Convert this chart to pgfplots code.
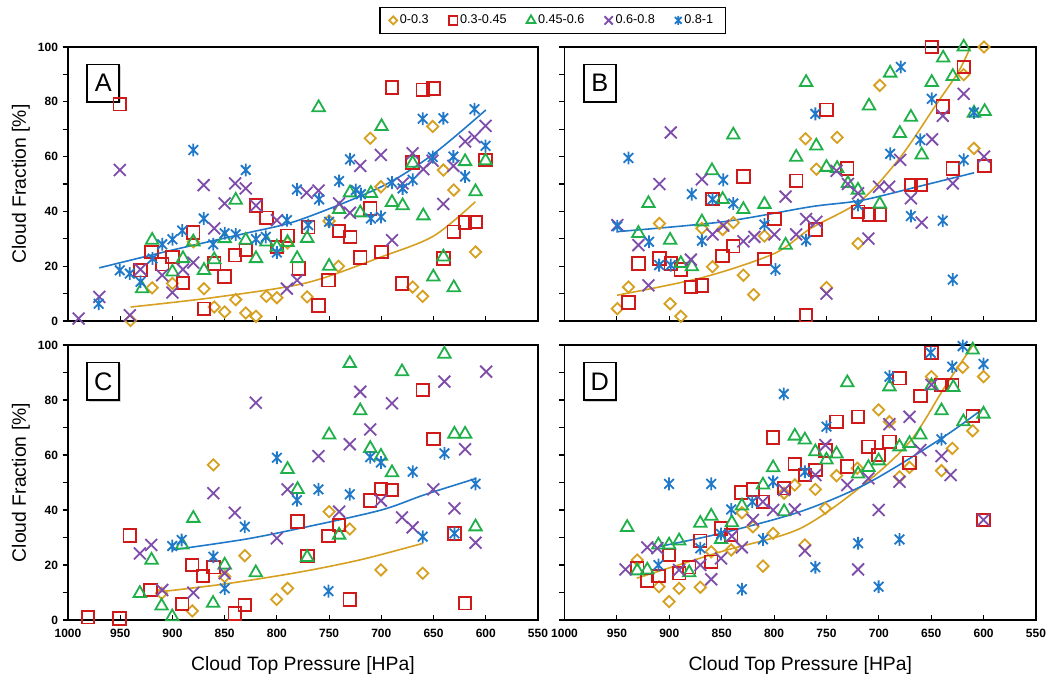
\documentclass[border=0pt]{standalone}
\usepackage{fontspec}
\setmainfont{Liberation Sans}
\usepackage{pgfplots}
\pgfplotsset{compat=1.18}
\usetikzlibrary{shadows}

\definecolor{cgold}{HTML}{D6A020}
\definecolor{cred}{HTML}{D01A1A}
\definecolor{cgreen}{HTML}{20B04A}
\definecolor{cpurple}{HTML}{7E4CAB}
\definecolor{cblue}{HTML}{1F78C8}

% star marker: an x with a vertical bar
\pgfdeclareplotmark{xstar}{%
  \pgfpathmoveto{\pgfqpoint{-.75\pgfplotmarksize}{-.75\pgfplotmarksize}}%
  \pgfpathlineto{\pgfqpoint{.75\pgfplotmarksize}{.75\pgfplotmarksize}}%
  \pgfpathmoveto{\pgfqpoint{-.75\pgfplotmarksize}{.75\pgfplotmarksize}}%
  \pgfpathlineto{\pgfqpoint{.75\pgfplotmarksize}{-.75\pgfplotmarksize}}%
  \pgfpathmoveto{\pgfqpoint{0pt}{-\pgfplotmarksize}}%
  \pgfpathlineto{\pgfqpoint{0pt}{\pgfplotmarksize}}%
  \pgfusepathqstroke}

\pgfplotsset{
  panel/.style={
    scale only axis, width=352.5pt, height=205.5pt,
    x dir=reverse, xmin=550, xmax=1000, ymin=0, ymax=100,
    xtick={550,600,...,1000}, ytick={0,20,...,100}, minor ytick={10,30,50,70,90},
    xtick pos=bottom, ytick pos=left, xtick align=inside, ytick align=outside,
    major tick length=4pt, minor tick length=4pt,
    tick style={black, line width=0.8pt},
    axis line style={line width=1.2pt},
    clip=false,
    ticklabel style={font=\fontsize{9}{10}\selectfont\bfseries},
    xticklabel style={yshift=-3pt},
    /pgf/number format/assume math mode=true,
    /pgf/number format/set thousands separator={},
    every axis y label/.style={at={(axis description cs:-0.1,0.5)}, rotate=90, anchor=center},
    every axis x label/.style={at={(axis description cs:0.5,-0.164)}, anchor=center},
    label style={font=\fontsize{14.5}{16}\selectfont},
  },
  g0/.style={only marks, color=cgold, mark=square, mark size=3pt, mark options={rotate=45, line width=1.35pt}},
  g1/.style={only marks, color=cred, mark=square, mark size=4.7pt, mark options={line width=1.35pt}},
  g2/.style={only marks, color=cgreen, mark=triangle, mark size=5.4pt, mark options={line width=1.35pt}},
  g3/.style={only marks, color=cpurple, mark=x, mark size=6.3pt, mark options={line width=1.35pt}},
  g4/.style={only marks, color=cblue, mark=xstar, mark size=4.8pt, mark options={line width=1.35pt}},
  fit0/.style={cgold, line width=1.2pt, smooth, no marks, forget plot},
  fit4/.style={cblue, line width=1.2pt, smooth, no marks, forget plot},
}

\newcommand{\panellabel}[1]{%
  \node[draw, line width=1.2pt, fill=white,
        drop shadow={opacity=0.35, shadow xshift=1.2pt, shadow yshift=-1.2pt},
        minimum width=24pt, minimum height=28pt, inner sep=0pt,
        font=\fontsize{19}{20}\selectfont] at (axis description cs:0.075,0.868) {#1};}

\begin{document}
\begin{tikzpicture}
\path[use as bounding box] (0,0) rectangle (784.5pt,509.25pt);

% ---------------- A ----------------
\begin{axis}[panel, at={(51pt,268.5pt)}, anchor=south west,
  xticklabels={}, ylabel={Cloud Fraction [\%]},
  legend style={at={(1.031,1.097)}, anchor=center, legend columns=-1,
    draw=black, line width=1pt, font=\fontsize{9.5}{11}\selectfont,
    inner xsep=7pt, inner ysep=3.5pt,
    /tikz/every even column/.append style={column sep=13pt}},
  legend image code/.code={\draw[#1] plot coordinates {(0.13cm,0cm)};},
  legend image post style={every mark/.append style={scale=0.7}},
]
\addplot[g0] coordinates {(940.2,0.2) (919.4,12.1) (900,13.7) (880,28.9) (869.8,11.8) (860,5.1) (850,3.3) (839.4,7.8) (829.8,2.9) (820,1.7) (810,9) (800,8.5) (789.8,28.5) (771,8.8) (750,36.5) (741,20) (710.6,66.7) (700.4,49) (670,12.4) (660.4,9) (650.8,71) (640.6,55.1) (630.6,47.8) (609.8,25.2)};
\addplot[g1] coordinates {(950.4,79.1) (930.6,18.5) (920,25.2) (909.8,20.7) (900,23.4) (889.9,13.9) (880,32.3) (869.8,4.5) (860,21) (850,16.3) (840,24) (829.8,25.9) (820,42.1) (810,37.7) (800,27) (789.8,31.1) (779,19.1) (770,34.2) (760.2,5.7) (750.6,14.9) (740.4,32.8) (729.8,30.7) (720.2,23.2) (710.6,41.1) (699.8,25.2) (689.8,85.2) (680.2,13.7) (670,57.8) (660.4,84.4) (650.2,84.8) (640.6,22.8) (630.6,32.6) (619.8,35.9) (609.8,36.1) (600.2,58.8)};
\addplot[g2] coordinates {(929,11.8) (919.4,29.5) (900,17.9) (889.9,22.8) (880,28.9) (869.8,18.5) (860,22.4) (850,30.1) (839.4,44.1) (829.8,29.5) (820,22.8) (810,28.9) (800,27) (789.8,28.7) (780.6,22.8) (771,30.2) (760,77.9) (750,20) (740.4,40.7) (730,46.8) (720.2,39.5) (710,46.6) (699.8,71) (689.8,43.3) (679.6,42.1) (670,57.6) (659.8,38.4) (650.2,16.1) (640.6,23.4) (630.6,12.2) (619.8,58.2) (609.8,47.2) (600.2,58.5)};
\addplot[g3] coordinates {(989.8,0.9) (970,8.8) (950.4,55.1) (940.8,2.1) (930.6,18.8) (909.8,16.7) (900,10.4) (889.9,18.8) (880,21.3) (870.1,49.6) (860,33.8) (850,42.9) (840,50.2) (829.8,48.4) (820,42.1) (800,36.8) (790.4,11.8) (780.6,14.9) (771.5,46.8) (760.2,47.6) (740.4,42.9) (730,39.5) (720.2,56.6) (700.4,60.6) (689.8,29.5) (679.6,50.2) (670,61.2) (659.8,55.4) (651,58.5) (640.6,42.7) (631,56.6) (619.8,65.5) (610.8,67.1) (600.2,71.2)};
\addplot[g4] coordinates {(970.6,6.3) (950.4,18.5) (940.8,17.3) (930.6,14.3) (919,22.8) (909.8,28) (900,29.8) (890.6,33) (880,62.4) (870,37.4) (861,28) (850,32) (839.4,31.6) (829.8,55.1) (820,29.9) (810.6,30.7) (800,25) (790.4,36.8) (780.8,48) (770,35) (759.6,44.4) (750,36.2) (740.4,51.1) (730,59) (724.4,47.8) (719.6,46.3) (710,37.4) (700.4,38) (689.8,50.5) (679.6,48.4) (670,51.5) (660.4,73.8) (650.8,59.8) (640.6,74) (631,60) (619.8,52.7) (610.8,77.3) (600.2,63.9)};
\addplot[fit0] coordinates {(940,5.1) (860,8.6) (772,13.9) (700,23.4) (650,31) (610,43.5)};
\addplot[fit4] coordinates {(970,19.4) (900,25.9) (830,32) (779,36.8) (700,49) (650,61) (600,77)};
\legend{0-0.3, 0.3-0.45, 0.45-0.6, 0.6-0.8, 0.8-1}
\panellabel{A}
\end{axis}

% ---------------- B ----------------
\begin{axis}[panel, at={(423.4pt,268.5pt)}, anchor=south west, width=353.6pt,
  xticklabels={}, yticklabels={}]
\addplot[g0] coordinates {(949.6,4.5) (939,12.4) (909.4,35.6) (899.2,6.3) (889,1.7) (868.9,33.8) (858.7,19.8) (849.1,33.4) (838.9,35.9) (829.3,16.7) (819.5,9.6) (809.2,31) (770,66.5) (759.6,55.4) (750,12.2) (739.8,67) (719.9,28.3) (699.1,86) (619,89.9) (609.2,63) (599.6,100)};
\addplot[g1] coordinates {(939,6.7) (929.5,21) (909.4,22.8) (898.6,21) (889,18.8) (879.4,12.4) (868.9,13) (858.7,44.5) (849.1,23.7) (838.9,27.3) (829.3,52.7) (809.2,22.6) (799.7,37.2) (778.9,51.2) (769.4,2.1) (760.6,33.4) (750,77.1) (730.2,55.7) (719.6,39.9) (709.4,38.9) (699.1,38.9) (669.4,49.6) (659.8,49.6) (649.5,100) (639,78.3) (629.4,55.7) (619,92.7) (599,56.6)};
\addplot[g2] coordinates {(929.5,32) (919.9,42.9) (899.2,29.5) (889,21) (878.5,19.8) (868.9,36.2) (859.3,54.9) (849.1,44.4) (838.9,67.9) (829.3,40.7) (809.2,42.6) (789,27.7) (778.9,59.8) (769.4,87.1) (759.7,63.9) (750,56.1) (739.8,55.7) (729.5,50.2) (719.9,47.8) (709.4,78.5) (699.1,42.7) (689.2,90.5) (680,68.5) (669.4,74.4) (659.1,60.6) (649.5,87.1) (638.6,96) (629.4,89.3) (619,100) (609.2,75.9) (599,76.5)};
\addplot[g3] coordinates {(949.6,35) (929.5,27.7) (919.9,13) (909.4,50) (898.6,68.8) (879.4,22.4) (868.9,51.7) (858.7,31.6) (848.5,34.8) (829.3,29.1) (818.8,30.7) (799.7,31.6) (789,45.4) (778.9,31.6) (769.4,37.2) (759.6,36.2) (750,10) (740.4,54.8) (729.5,50) (719.9,46.6) (710,30.1) (699.8,49) (690.2,49) (679.6,58.8) (669.4,44.8) (659.1,35.9) (649.2,66.3) (639,74.9) (629.4,50.2) (619,82.9) (599.6,60)};
\addplot[g4] coordinates {(949.6,34.6) (939,59.5) (919.3,28.9) (909.7,20.4) (898.6,20.4) (878.5,46.3) (868.9,29.3) (858.7,44.4) (848.5,51.5) (838.9,42.9) (809.2,35.2) (798.7,18.8) (769.4,29.5) (760.6,75.6) (719.9,42.3) (689.2,61) (679,92.7) (669.4,38.3) (660.4,66.1) (649.5,81.1) (639,36.6) (629.4,15.1) (619,58.8) (609.2,76.1)};
\addplot[fit0] coordinates {(950,9.4) (868,15.9) (800,24.6) (765,33.8) (717,44) (679,60) (647,78) (624,91) (613,99.6)};
\addplot[fit4] coordinates {(950,32.6) (849,36.2) (765,41.7) (717,44) (663,49) (609,54.1)};
\panellabel{B}
\end{axis}

% ---------------- C ----------------
\begin{axis}[panel, at={(51pt,44.25pt)}, anchor=south west, height=206.25pt,
  ylabel={Cloud Fraction [\%]}, xlabel={Cloud Top Pressure [HPa]}]
\addplot[g0] coordinates {(910.4,9.7) (881,3.3) (860.8,56.4) (850,15.8) (830.7,23.4) (800.3,7.5) (789.8,11.5) (750,39.4) (730.2,33.1) (700.4,18.2) (660.4,17)};
\addplot[g1] coordinates {(980.8,1) (950.7,0.6) (940.8,30.7) (921,10.9) (890.6,5.8) (881,20) (870.7,16) (860.8,19.2) (840.3,2.4) (830.7,5.5) (780.2,35.8) (770.7,23.2) (750.6,30.5) (740.4,34.5) (730.2,7.5) (710.6,43.4) (700.4,47.6) (689.8,47.3) (660.4,83.6) (650.2,65.8) (630,31.5) (619.8,6.1)};
\addplot[g2] coordinates {(931.2,9.7) (920,21.8) (910.4,5.1) (900.2,1.2) (890.6,27.3) (880,37) (861.1,6.1) (850,20) (820.2,17.2) (789.8,54.8) (780.2,47.5) (771,22.8) (750,67.3) (740.4,30.9) (730.2,93.3) (720.2,76.1) (710.6,62.4) (700.4,59.6) (689.8,53.6) (680.2,90.3) (639.6,96.7) (630,67.6) (619.8,67.6) (609.8,33.9)};
\addplot[g3] coordinates {(931.2,24.2) (920.3,27.3) (909.8,10.9) (880,9.9) (860.8,46.1) (850,17) (840.3,39) (820.2,79) (800,29.7) (789.8,47.5) (760.2,59.6) (740.4,39.4) (730.2,63.9) (720.2,83) (710.6,69.3) (700.4,43.4) (689.8,78.8) (680.2,37.3) (670,33.7) (650.2,47.5) (639.6,86.7) (630,40.6) (619.8,62.1) (609.8,28.1) (599.6,90.3)};
\addplot[g4] coordinates {(900.2,26.9) (891.2,29.1) (860.8,23) (850,11.5) (830.7,33.9) (800,59) (780.8,43.6) (760.2,47.5) (750.6,10.5) (730.2,45.7) (710.6,59.2) (700.4,57.3) (670,53.9) (660.4,30.3) (639.6,60.6) (630,31.5) (609.8,49.5)};
\addplot[fit0] coordinates {(911,10.3) (850,13.1) (780,17.3) (720,21.9) (660,27.9)};
\addplot[fit4] coordinates {(900,25.5) (830,29.4) (771,33.9) (700,40) (659,45.5) (609,51.5)};
\panellabel{C}
\end{axis}

% ---------------- D ----------------
\begin{axis}[panel, at={(423.4pt,44.25pt)}, anchor=south west, width=353.6pt, height=206.25pt,
  yticklabels={}, xlabel={Cloud Top Pressure [HPa]}]
\addplot[g0] coordinates {(930.6,21.8) (909.8,12.1) (900.2,6.7) (890.6,11.5) (870.4,11.9) (860,24.8) (840.9,25.5) (830.7,39) (820.2,33.9) (810.6,19.6) (800.9,31.5) (790.4,46.1) (780.2,49.1) (770.6,27.3) (760.6,47.5) (751,40.6) (740.4,52.5) (720.5,55.2) (700.2,76.4) (689.9,72.1) (680.3,52.1) (670.7,55.5) (649.8,88.5) (640.2,54.3) (629.9,62.4) (620,91.9) (610.4,68.8) (600.1,88.5)};
\addplot[g1] coordinates {(930.6,18.8) (921,14.3) (910.4,16) (900.2,23.6) (890.6,17) (881,19.2) (870.4,28.8) (860,21.2) (850.6,33.3) (840.9,30.9) (831.4,46.4) (820.2,47.5) (810.6,43) (800.9,66.4) (790.4,47.9) (780.2,56.7) (770.6,52.7) (760.6,54.5) (751,61.6) (740.4,72.1) (730.1,55.8) (719.8,73.9) (709.9,63) (700.2,60) (689.9,64.8) (680.3,87.9) (670.7,57.2) (660.4,81.5) (649.8,97.2) (640.2,85.5) (629.9,85.5) (610.4,74.2) (600.1,36.4)};
\addplot[g2] coordinates {(940.2,33.7) (930.6,17.9) (921,18.2) (910.4,27.3) (900.2,27.3) (890.6,28.8) (881,17.2) (870.4,35.2) (860,37.8) (850.6,29.3) (840.3,35.4) (830.7,41.5) (810.6,49.1) (800.9,55.4) (790.4,39.4) (780.2,66.9) (770.6,65.5) (760.6,61.2) (750,58.2) (740.4,60.4) (730.1,86.3) (719.8,53.1) (709.9,55.5) (700.2,57.9) (689.9,84.8) (680.3,63) (670.7,64.2) (660.4,67.3) (649.8,85.2) (640.2,76.1) (628.9,84.6) (619.3,72.1) (610.4,98.2) (600.1,74.9)};
\addplot[g3] coordinates {(941.8,18.4) (921,26.4) (911.4,26.1) (890.6,18.2) (870.4,20) (860,14.8) (850.6,22.4) (840.3,30.5) (830.7,26.4) (820.2,36.4) (810.6,43) (800.9,40) (790.4,47.3) (780.2,40.2) (770.6,25.2) (760.6,52.7) (751,63.6) (730.1,49.1) (719.8,18.4) (709.9,51.5) (700.2,40) (689.9,71.2) (680.3,50.3) (670.7,73.9) (660.4,61.8) (649.8,85.5) (640.2,59.6) (631.5,52.7) (600.1,36.4)};
\addplot[g4] coordinates {(910.4,20) (900.2,49.5) (870.4,26.1) (860,49.5) (850.6,31.3) (840.9,40.2) (830.7,11.2) (820.8,43) (810.6,29.3) (800.9,50.3) (790.7,82.2) (770.6,53.9) (760.6,19.2) (750,70.3) (719.8,27.9) (700.2,12.1) (689.9,88.5) (680.3,29.3) (650.5,97.2) (640.2,65.7) (629.9,92.1) (620,99.6) (600.1,93.1)};
\addplot[fit0] coordinates {(931,15.2) (851,24.8) (775,33.3) (711,50.3) (669,65.5) (637,84.8) (610,100)};
\addplot[fit4] coordinates {(910,26.7) (851,31.5) (775,39.4) (711,49.7) (640,66.1) (600,77)};
\panellabel{D}
\end{axis}
\end{tikzpicture}
\end{document}
